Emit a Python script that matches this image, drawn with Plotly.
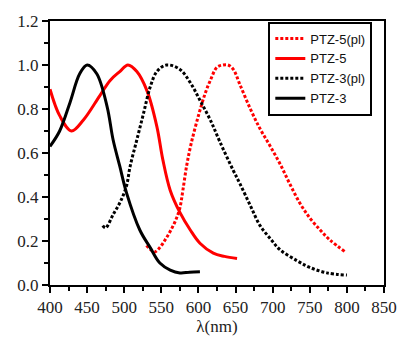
import plotly.graph_objects as go

# PTZ-5 (pl) - red dotted
ptz5_pl_x = [530, 536, 541, 548, 556, 563, 570, 575, 579, 584, 590, 600, 609, 616, 625, 633, 640, 647, 656, 670, 683, 696, 710, 723, 737, 750, 764, 777, 798]
ptz5_pl_y = [0.18, 0.16, 0.15, 0.17, 0.21, 0.25, 0.30, 0.35, 0.43, 0.54, 0.64, 0.77, 0.87, 0.93, 0.99, 1.00, 1.00, 0.98, 0.91, 0.80, 0.71, 0.635, 0.55, 0.46, 0.37, 0.305, 0.25, 0.205, 0.15]

# PTZ-5 - red solid
ptz5_x = [400, 413, 429, 445, 467, 481, 494, 505, 517, 531, 544, 552, 562, 575, 589, 602, 620, 635, 652]
ptz5_y = [0.89, 0.77, 0.70, 0.75, 0.86, 0.93, 0.97, 1.00, 0.97, 0.88, 0.72, 0.57, 0.43, 0.33, 0.25, 0.19, 0.145, 0.13, 0.12]

# PTZ-3 (pl) - black dotted
ptz3_pl_x = [471, 475, 485, 495, 503, 508, 517, 526, 535, 544, 557, 575, 589, 602, 616, 629, 647, 656, 670, 683, 697, 710, 733, 750, 773, 800]
ptz3_pl_y = [0.27, 0.26, 0.32, 0.38, 0.45, 0.54, 0.66, 0.78, 0.90, 0.97, 1.00, 0.98, 0.92, 0.84, 0.75, 0.65, 0.52, 0.46, 0.36, 0.27, 0.21, 0.16, 0.11, 0.08, 0.055, 0.045]

# PTZ-3 - black solid
ptz3_x = [400, 413, 427, 440, 450, 463, 477, 485, 494, 503, 521, 535, 548, 562, 575, 588, 602]
ptz3_y = [0.63, 0.70, 0.83, 0.96, 1.00, 0.96, 0.81, 0.66, 0.54, 0.42, 0.25, 0.17, 0.10, 0.068, 0.055, 0.058, 0.06]

x_ticks = [400, 450, 500, 550, 600, 650, 700, 750, 800, 850]
y_ticks = [0.0, 0.2, 0.4, 0.6, 0.8, 1.0, 1.2]

dotted = "3px,2px"

fig = go.Figure()
fig.add_trace(go.Scatter(x=ptz5_pl_x, y=ptz5_pl_y, mode="lines", name="PTZ-5(pl)",
                         line=dict(color="#ff0000", width=3, dash=dotted, shape="spline")))
fig.add_trace(go.Scatter(x=ptz5_x, y=ptz5_y, mode="lines", name="PTZ-5",
                         line=dict(color="#ff0000", width=3, shape="spline")))
fig.add_trace(go.Scatter(x=ptz3_pl_x, y=ptz3_pl_y, mode="lines", name="PTZ-3(pl)",
                         line=dict(color="#000000", width=3, dash=dotted, shape="spline")))
fig.add_trace(go.Scatter(x=ptz3_x, y=ptz3_y, mode="lines", name="PTZ-3",
                         line=dict(color="#000000", width=3, shape="spline")))

axis_font = dict(family="'Liberation Serif', 'DejaVu Serif', serif", size=17, color="#222")

fig.update_layout(
    width=400, height=337,
    margin=dict(l=50, r=16, t=21, b=52),
    plot_bgcolor="white", paper_bgcolor="white",
    showlegend=True,
    legend=dict(x=0.965, y=0.998, xanchor="right", yanchor="top",
                bordercolor="black", borderwidth=2, bgcolor="white",
                font=dict(family="Arial", size=13, color="#111"),
                tracegroupgap=0, itemwidth=30),
    xaxis=dict(range=[400, 850], tickvals=x_ticks, ticktext=[str(v) for v in x_ticks],
               automargin=False,
               showgrid=False, zeroline=False, showline=True, linecolor="black", linewidth=2,
               mirror=True, ticks="outside", ticklen=6, tickwidth=1.5, tickcolor="black",
               minor=dict(dtick=25, ticks="outside", ticklen=4, tickwidth=1.5, tickcolor="black"),
               tickfont=axis_font,
               title=dict(text="λ(nm)", font=axis_font, standoff=2)),
    yaxis=dict(range=[0, 1.2], tickvals=y_ticks, ticktext=[f"{v:.1f}" for v in y_ticks],
               automargin=False,
               showgrid=False, zeroline=False, showline=True, linecolor="black", linewidth=2,
               mirror=True, ticks="outside", ticklen=6, tickwidth=1.5, tickcolor="black",
               minor=dict(dtick=0.1, ticks="outside", ticklen=4, tickwidth=1.5, tickcolor="black"),
               tickfont=axis_font),
)

fig.write_html("out.html")
